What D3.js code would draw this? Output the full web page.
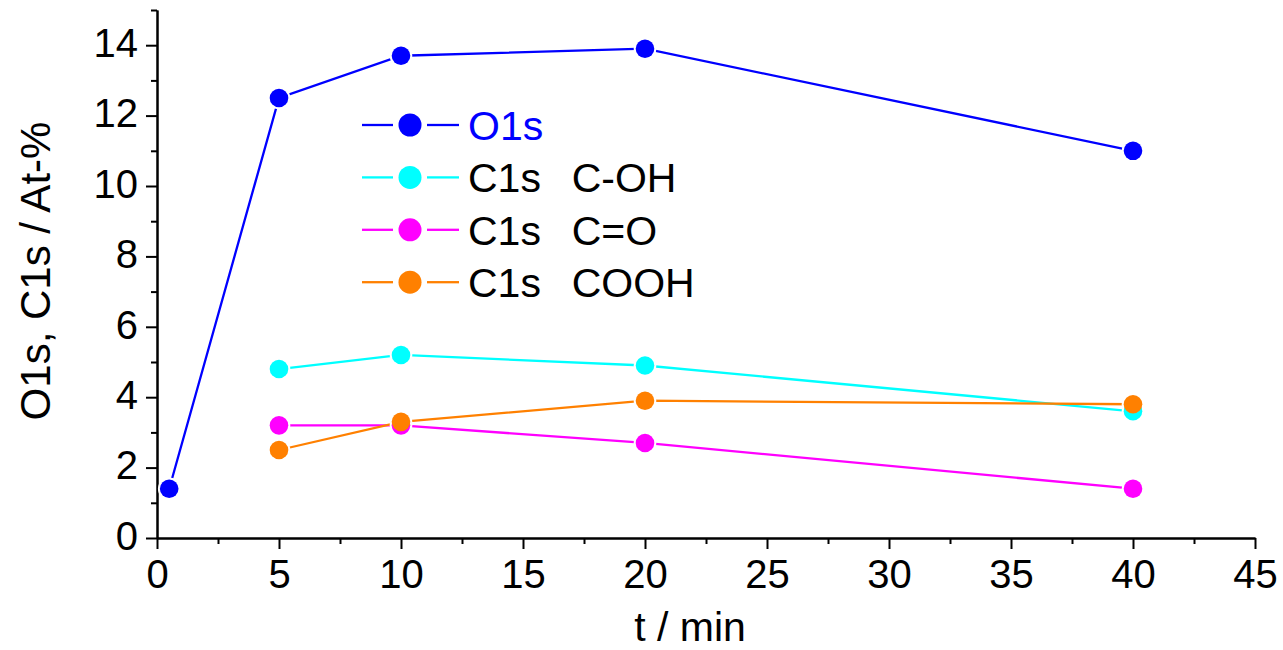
<!DOCTYPE html>
<html>
<head>
<meta charset="utf-8">
<script src="https://cdn.jsdelivr.net/npm/d3@7"></script>
<style>
  body { margin: 0; background: #fff; }
  text { font-family: "Liberation Sans", Arial, sans-serif; fill: #000; }
</style>
</head>
<body>
<svg id="chart" width="1283" height="650"></svg>
<script>
// data
const seriesNames = ["O1s", "C1s  C-OH", "C1s  C=O", "C1s  COOH"];
const seriesColors = ["#0000ff", "#00ffff", "#ff00ff", "#ff8000"];
const o1sX = [0.5, 5, 10, 20, 40];
const o1sY = [1.4, 12.5, 13.7, 13.9, 11.0];
const c1sX = [5, 10, 20, 40];
const cohY = [4.8, 5.2, 4.9, 3.6];
const coY = [3.2, 3.2, 2.7, 1.4];
const coohY = [2.5, 3.3, 3.9, 3.8];
const xTicks = [0, 5, 10, 15, 20, 25, 30, 35, 40, 45];
const yTicks = [0, 2, 4, 6, 8, 10, 12, 14];

const series = [
  { xs: o1sX, ys: o1sY },
  { xs: c1sX, ys: cohY },
  { xs: c1sX, ys: coY },
  { xs: c1sX, ys: coohY },
];

const margin = { top: 10, right: 28, bottom: 112, left: 157 };
const svg = d3.select("#chart");
const width = 1283 - margin.left - margin.right;
const height = 650 - margin.top - margin.bottom;

const x = d3.scaleLinear().domain([0, 45]).range([0, width]);
const y = d3.scaleLinear().domain([0, 15]).range([height, 0]);

const g = svg.append("g")
  .attr("transform", "translate(" + margin.left + "," + margin.top + ")");

function styleAxis(sel) {
  sel.attr("font-family", null).attr("font-size", null);
  sel.select(".domain").attr("stroke", "#000").attr("stroke-width", 2);
  sel.selectAll(".tick line").attr("stroke", "#000").attr("stroke-width", 2);
}

const xMinor = d3.range(2.5, 45, 5);
const yMinor = d3.range(1, 16, 2);

// x axis: minor ticks in their own group, then major
const gxMinor = g.append("g").attr("transform", "translate(0," + height + ")")
  .call(d3.axisBottom(x).tickValues(xMinor).tickSize(6).tickSizeOuter(0).tickFormat(""));
styleAxis(gxMinor);

const gx = g.append("g").attr("transform", "translate(0," + height + ")")
  .call(d3.axisBottom(x).tickValues(xTicks).tickSize(11).tickSizeOuter(0).tickFormat(d3.format("d")));
styleAxis(gx);
gx.selectAll(".tick text")
  .attr("y", 50).attr("dy", 0)
  .style("font-size", "40px");

// y axis
const gyMinor = g.append("g")
  .call(d3.axisLeft(y).tickValues(yMinor).tickSize(6).tickSizeOuter(0).tickFormat(""));
styleAxis(gyMinor);

const gy = g.append("g")
  .call(d3.axisLeft(y).tickValues(yTicks).tickSize(11).tickSizeOuter(0).tickFormat(d3.format("d")));
styleAxis(gy);
gy.selectAll(".tick text")
  .attr("x", -19).attr("dy", "0.28em")
  .style("font-size", "40px");

// axis titles
svg.append("text")
  .attr("x", 690)
  .attr("y", 641)
  .attr("text-anchor", "middle")
  .style("font-size", "41px")
  .text("t / min");

svg.append("text")
  .attr("transform", "translate(50,271) rotate(-90)")
  .attr("text-anchor", "middle")
  .style("font-size", "42px")
  .text("O1s, C1s / At-%");

// lines, then white gaps round the markers, then the markers
const line = d3.line().x(d => x(d[0])).y(d => y(d[1]));
const allPts = series.map(s => s.xs.map((v, k) => [v, s.ys[k]]));

allPts.forEach((pts, i) => {
  g.append("path")
    .attr("d", line(pts))
    .attr("fill", "none")
    .attr("stroke", seriesColors[i])
    .attr("stroke-width", 2.3);
});

allPts.forEach((pts) => {
  g.append("g").selectAll("circle")
    .data(pts)
    .enter()
    .append("circle")
    .attr("cx", d => x(d[0]))
    .attr("cy", d => y(d[1]))
    .attr("r", 11.3)
    .attr("fill", "#fff");
});

allPts.forEach((pts, i) => {
  g.append("g").selectAll("circle")
    .data(pts)
    .enter()
    .append("circle")
    .attr("cx", d => x(d[0]))
    .attr("cy", d => y(d[1]))
    .attr("r", 9.3)
    .attr("fill", seriesColors[i]);
});

// legend
const legend = svg.append("g").attr("transform", "translate(362,125)");
seriesNames.forEach((name, i) => {
  const row = legend.append("g").attr("transform", "translate(0," + i * 52.4 + ")");
  row.append("line").attr("x1", 0).attr("x2", 31).attr("y1", 0).attr("y2", 0)
    .attr("stroke", seriesColors[i]).attr("stroke-width", 2.3);
  row.append("line").attr("x1", 65).attr("x2", 97).attr("y1", 0).attr("y2", 0)
    .attr("stroke", seriesColors[i]).attr("stroke-width", 2.3);
  row.append("circle").attr("cx", 48).attr("cy", 0).attr("r", 11.5)
    .attr("fill", seriesColors[i]);
  row.append("text")
    .attr("x", 106)
    .attr("y", 15)
    .style("font-size", "41px")
    .style("word-spacing", "4px")
    .style("fill", i === 0 ? "#0000ff" : "#000")
    .style("white-space", "pre")
    .attr("xml:space", "preserve")
    .text(name);
});
</script>
</body>
</html>
